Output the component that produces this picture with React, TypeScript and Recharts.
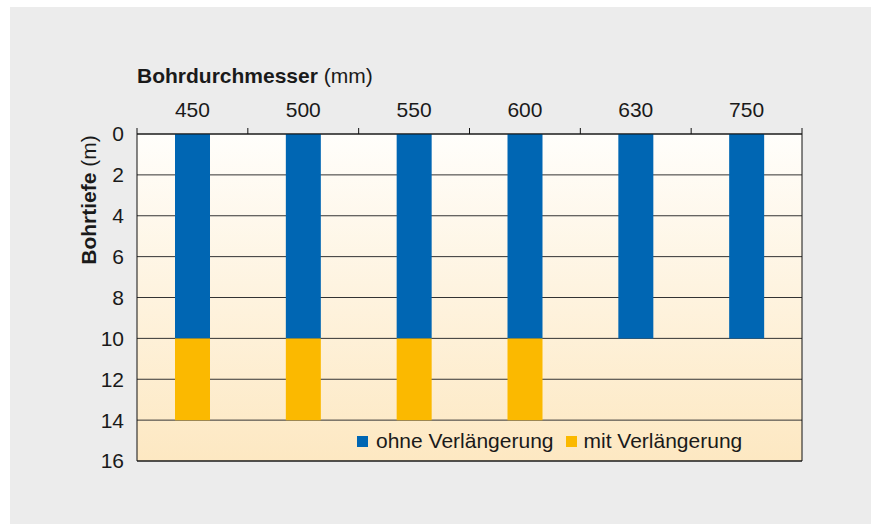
import React from 'react';
import { BarChart, Bar, XAxis, YAxis, CartesianGrid } from 'recharts';

const diameters = ['450', '500', '550', '600', '630', '750'];
const ohneVerlaengerung = [10, 10, 10, 10, 10, 10];
const mitVerlaengerung = [4, 4, 4, 4, 0, 0];
const depthTicks = [0, 2, 4, 6, 8, 10, 12, 14, 16];

const data = diameters.map((d, i) => ({
  d,
  ohne: ohneVerlaengerung[i],
  mit: mitVerlaengerung[i],
}));

const W = 861;
const H = 517;
// plot area: x 127..792, y 127..454 inside the grey box
const margin = { top: 97, right: 68, bottom: 62, left: 87 };
const plotW = W - 127 - 69;
const bandW = plotW / diameters.length;

const BLUE = '#0066b3';
const YELLOW = '#fbb900';
const FONT = '"Liberation Sans", Arial, sans-serif';
const FS = 21;

const TopTick = (props: any) => {
  const { x, y, index } = props;
  const left = x - bandW / 2;
  return (
    <g>
      <line x1={left} x2={left} y1={y - 6} y2={y} stroke="#111" strokeWidth={1} />
      {index === diameters.length - 1 && (
        <line x1={x + bandW / 2} x2={x + bandW / 2} y1={y - 6} y2={y} stroke="#111" strokeWidth={1} />
      )}
      <text x={x} y={y - 17} textAnchor="middle" fontSize={FS} fill="#1a1a1a" fontFamily={FONT}>
        {props.payload.value}
      </text>
    </g>
  );
};

export default function App() {
  return (
    <div style={{ position: 'absolute', left: 10, top: 7, width: W, height: H, background: '#ececec' }}>
      <BarChart width={W} height={H} data={data} margin={margin} barSize={35}>
        <defs>
          <linearGradient id="bg" x1="0" y1="0" x2="0" y2="1">
            <stop offset="0%" stopColor="#fffefb" />
            <stop offset="100%" stopColor="#fde8c2" />
          </linearGradient>
        </defs>
        <CartesianGrid vertical={false} stroke="#333" fill="url(#bg)" fillOpacity={1} />
        <XAxis
          dataKey="d"
          orientation="top"
          height={30}
          tickSize={0}
          tickMargin={0}
          tick={<TopTick />}
          axisLine={{ stroke: '#111' }}
          interval={0}
          label={{
            content: () => (
              <text x={127} y={76} fontFamily={FONT} fontSize={FS} fill="#1a1a1a">
                <tspan fontWeight="bold">Bohrdurchmesser</tspan>
                <tspan> (mm)</tspan>
              </text>
            ),
          }}
        />
        <XAxis xAxisId="bottom" dataKey="d" orientation="bottom" height={1} tick={false} tickLine={false} axisLine={{ stroke: '#111' }} />
        <YAxis
          type="number"
          domain={[0, 16]}
          ticks={depthTicks}
          reversed
          width={40}
          tickLine={false}
          tickSize={5}
          tickMargin={8}
          axisLine={{ stroke: '#111' }}
          tick={{ fontSize: FS, fill: '#1a1a1a', fontFamily: FONT }}
          interval={0}
          label={{
            content: () => (
              <text
                transform={`translate(86, 193) rotate(-90)`}
                textAnchor="middle"
                fontFamily={FONT}
                fontSize={FS}
                fill="#1a1a1a"
              >
                <tspan fontWeight="bold">Bohrtiefe</tspan>
                <tspan> (m)</tspan>
              </text>
            ),
          }}
        />
        <YAxis yAxisId="right" orientation="right" type="number" domain={[0, 16]} width={1} tick={false} tickLine={false} axisLine={{ stroke: '#111' }} />
        <Bar dataKey="ohne" stackId="a" fill={BLUE} isAnimationActive={false} />
        <Bar dataKey="mit" stackId="a" fill={YELLOW} isAnimationActive={false} />
      </BarChart>
      <div
        style={{
          position: 'absolute',
          left: 347,
          top: 422,
          display: 'flex',
          alignItems: 'center',
          fontFamily: FONT,
          fontSize: FS,
          color: '#1a1a1a',
          whiteSpace: 'nowrap',
        }}
      >
        <span style={{ width: 11, height: 11, background: BLUE, display: 'inline-block', marginRight: 8 }} />
        <span style={{ marginRight: 12 }}>ohne Verlängerung</span>
        <span style={{ width: 11, height: 11, background: YELLOW, display: 'inline-block', marginRight: 7 }} />
        <span>mit Verlängerung</span>
      </div>
    </div>
  );
}
